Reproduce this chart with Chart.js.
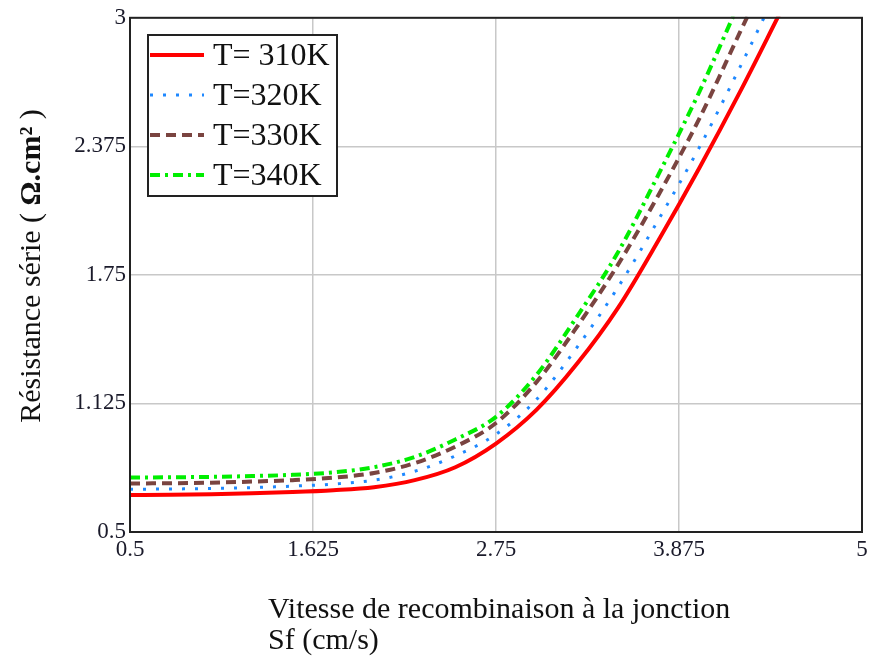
<!DOCTYPE html>
<html><head><meta charset="utf-8">
<script src="https://cdn.jsdelivr.net/npm/chart.js@4/dist/chart.umd.min.js"></script>
<style>html,body{margin:0;padding:0;background:#fff;overflow:hidden}#wrap{width:873px;height:671px;position:relative}</style>
</head><body><div id="wrap"><canvas id="c" width="873" height="671"></canvas></div>
<script>
// ---- data ----
const sf = [0.5,0.75,1,1.25,1.5,1.75,2,2.25,2.5,2.75,3,3.25,3.5,3.75,4,4.25,4.5];
const rs310 = [0.680,0.681,0.684,0.688,0.694,0.703,0.718,0.752,0.815,0.930,1.095,1.320,1.590,1.920,2.270,2.640,3.030];
const rs320 = [0.708,0.709,0.712,0.716,0.723,0.733,0.752,0.795,0.870,0.975,1.145,1.400,1.690,2.020,2.370,2.760,3.170];
const rs330 = [0.736,0.737,0.740,0.745,0.752,0.764,0.787,0.835,0.915,1.030,1.230,1.500,1.800,2.140,2.510,2.930,3.350];
const rs340 = [0.765,0.766,0.768,0.772,0.778,0.790,0.815,0.865,0.950,1.060,1.265,1.550,1.860,2.240,2.640,3.080,3.500];
const seriesLabels = ['T= 310K','T=320K','T=330K','T=340K'];
const xTicks = [0.5,1.625,2.75,3.875,5];
const xTickLabels = ['0.5','1.625','2.75','3.875','5'];
const yTicks = [0.5,1.125,1.75,2.375,3];
const yTickLabels = ['0.5','1.125','1.75','2.375','3'];
const xTitle = ['Vitesse de recombinaison à la jonction','Sf (cm/s)'];
const yTitleMain = 'Résistance série ( ';
const yTitleUnit = 'Ω.cm²';
const yTitleEnd = ' )';

const series = [rs310, rs320, rs330, rs340];
const styles = [
  {color:'#ff0000', width:4, dash:[]},
  {color:'#1e88ff', width:3, dash:[3,10]},
  {color:'#7a4440', width:4, dash:[10,6]},
  {color:'#00ee00', width:4, dash:[10,5,3,5]}
];
const SERIF = '"Liberation Serif","Times New Roman",serif';

const frameAndText = {
  id:'frameAndText',
  afterDraw(chart){
    const ctx = chart.ctx, a = chart.chartArea;
    ctx.save();
    // frame
    ctx.strokeStyle = '#222'; ctx.lineWidth = 2; ctx.setLineDash([]);
    ctx.strokeRect(a.left, a.top, a.right - a.left, a.bottom - a.top);
    // legend
    const lx = 148, ly = 35, lw = 189, lh = 161;
    ctx.fillStyle = '#fff'; ctx.fillRect(lx, ly, lw, lh);
    ctx.strokeStyle = '#222'; ctx.lineWidth = 2; ctx.strokeRect(lx, ly, lw, lh);
    ctx.font = '32px ' + SERIF; ctx.textBaseline = 'alphabetic'; ctx.textAlign = 'left';
    chart.data.datasets.forEach((ds, i) => {
      const y = 55 + i * 40;
      ctx.strokeStyle = ds.borderColor; ctx.lineWidth = ds.borderWidth;
      ctx.setLineDash(ds.borderDash || []);
      ctx.beginPath(); ctx.moveTo(150, y); ctx.lineTo(204, y); ctx.stroke();
      ctx.setLineDash([]);
      ctx.fillStyle = '#111';
      ctx.fillText(ds.label, 213, y + 10);
    });
    // x title (left-aligned block)
    ctx.fillStyle = '#111'; ctx.font = '30px ' + SERIF;
    ctx.fillText(xTitle[0], 268, 618);
    ctx.fillText(xTitle[1], 268, 649);
    // y title (rotated)
    ctx.translate(40, 266); ctx.rotate(-Math.PI / 2);
    const fN = '30px ' + SERIF, fB = 'bold 30px ' + SERIF;
    ctx.font = fN; const w1 = ctx.measureText(yTitleMain).width, w3 = ctx.measureText(yTitleEnd).width;
    ctx.font = fB; const w2 = ctx.measureText(yTitleUnit).width;
    let x0 = -(w1 + w2 + w3) / 2;
    ctx.font = fN; ctx.fillText(yTitleMain, x0, 0);
    ctx.font = fB; ctx.fillText(yTitleUnit, x0 + w1, 0);
    ctx.font = fN; ctx.fillText(yTitleEnd, x0 + w1 + w2, 0);
    ctx.restore();
  }
};

new Chart(document.getElementById('c'), {
  type:'line',
  data:{
    datasets: series.map((vals, i) => ({
      label: seriesLabels[i],
      data: sf.map((x, j) => ({x:x, y:vals[j]})),
      borderColor: styles[i].color,
      backgroundColor: styles[i].color,
      borderWidth: styles[i].width,
      borderDash: styles[i].dash,
      pointRadius: 0,
      fill: false,
      cubicInterpolationMode: 'monotone',
      clip: 1
    }))
  },
  options:{
    responsive:false, animation:false, devicePixelRatio:1,
    layout:{padding:{top:16, right:11, left:0, bottom:0}},
    plugins:{legend:{display:false}, tooltip:{enabled:false}},
    scales:{
      x:{
        type:'linear', min:0.5, max:5,
        afterBuildTicks: s => { s.ticks = xTicks.map(v => ({value:v})); },
        afterFit: s => { s.height = 139; },
        ticks:{callback: v => { const k = xTicks.indexOf(v); return k >= 0 ? xTickLabels[k] : ''; },
               font:{family:SERIF, size:23}, color:'#1a1a2a', maxRotation:0, autoSkip:false, padding:4},
        grid:{color:'#c8c8c8', lineWidth:1.5, drawTicks:false},
        border:{color:'#222', width:2}
      },
      y:{
        type:'linear', min:0.5, max:3,
        afterBuildTicks: s => { s.ticks = yTicks.map(v => ({value:v})); },
        afterFit: s => { s.width = 130; },
        ticks:{callback: v => { const k = yTicks.indexOf(v); return k >= 0 ? yTickLabels[k] : ''; },
               font:{family:SERIF, size:23}, color:'#1a1a2a', autoSkip:false, padding:4},
        grid:{color:'#c8c8c8', lineWidth:1.5, drawTicks:false},
        border:{color:'#222', width:2}
      }
    }
  },
  plugins:[frameAndText]
});
</script>
</body></html>
